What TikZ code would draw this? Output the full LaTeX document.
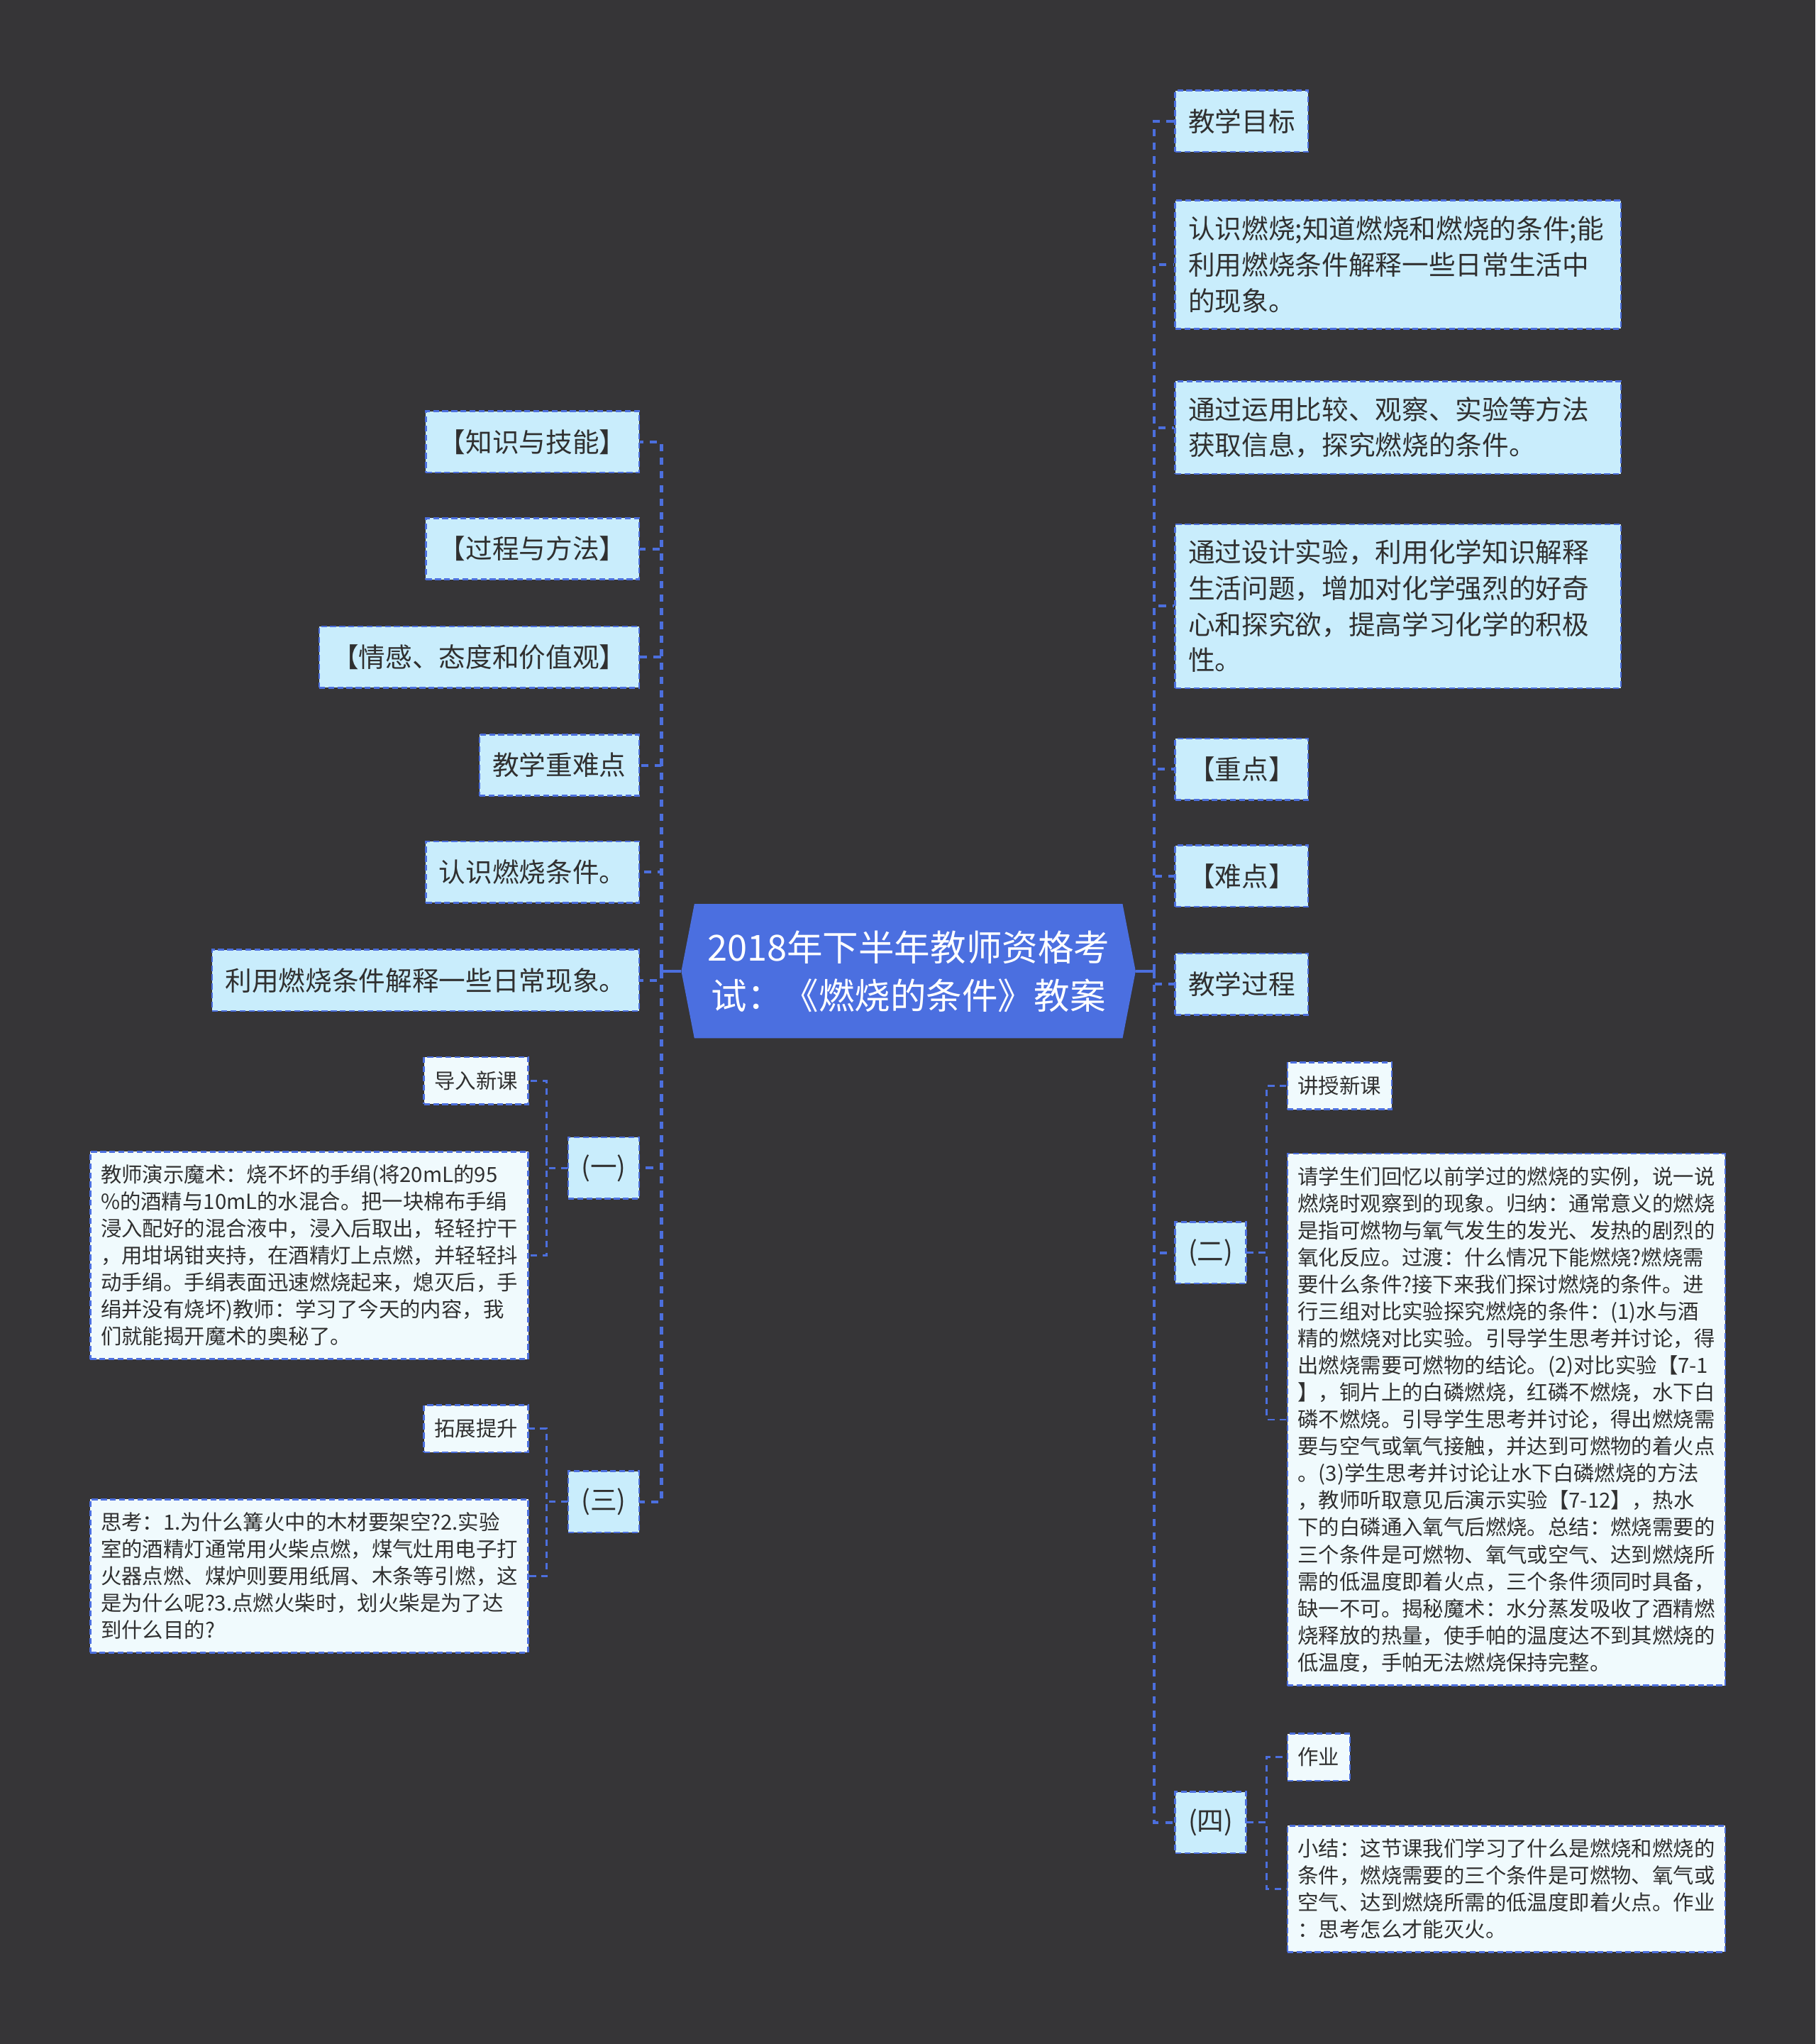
\documentclass[tikz,border=0pt]{standalone}
\usepackage{fontspec}
\setmainfont{Noto Sans CJK SC}
\usepackage{tikz}
\usetikzlibrary{positioning,shapes.symbols}
\definecolor{canvas}{HTML}{363537}
\definecolor{linkblue}{HTML}{4C6FDE}
\definecolor{titlefill}{HTML}{4B6FE0}
\definecolor{boxfill}{HTML}{C9EDFC}
\definecolor{notefill}{HTML}{F0FAFD}
\definecolor{inktext}{HTML}{303030}

\begin{document}
\begin{tikzpicture}[
        x=1pt, y=-1pt,
        title/.style={signal, signal to=east and west, signal pointer angle=158,
            fill=titlefill, text=white, align=center, minimum height=103pt,
            inner xsep=10pt, font=\fontsize{27.5pt}{37pt}\selectfont},
        topic/.style={draw=linkblue, dash pattern=on 4.5pt off 2.5pt, line width=1.4pt,
            fill=boxfill, text=inktext, align=left, inner xsep=10pt, inner ysep=12pt,
            minimum height=47pt, font=\fontsize{20.5pt}{27.6pt}\selectfont},
        wide topic/.style={topic, text width=322pt},
        note/.style={topic, fill=notefill, inner xsep=8pt, inner ysep=10pt,
            minimum height=36pt, font=\fontsize{16pt}{20.7pt}\selectfont},
        stem/.style={draw=linkblue, line width=1.8pt},
        bus/.style={draw=linkblue, line width=2.2pt, dash pattern=on 5.5pt off 5pt},
        subbus/.style={draw=linkblue, line width=1.5pt, dash pattern=on 5pt off 4pt}
    ]

    % Canvas and page size
    \fill[canvas] (0,0) rectangle (1393,1568);
    \useasboundingbox (0,0) rectangle (1393,1568);

    % Central title
    \node[title] (root) at (697,745) {2018年下半年教师资格考\\试：《燃烧的条件》教案};
    \coordinate (lhub) at ([xshift=-15pt]root.west);
    \coordinate (rhub) at ([xshift=14pt]root.east);

    % Define positions for the columns
    \def\lpos{491}
    \def\rpos{901}
    \def\lnote{406}
    \def\rnote{987}

    % Left branch
    \node[topic, anchor=east] (knowledge) at (\lpos,339) {【知识与技能】};
    \node[topic, anchor=east] (process) at (\lpos,421) {【过程与方法】};
    \node[topic, anchor=east] (attitude) at (\lpos,504) {【情感、态度和价值观】};
    \node[topic, anchor=east] (keypoint) at (\lpos,587) {教学重难点};
    \node[topic, anchor=east] (recognize) at (\lpos,669) {认识燃烧条件。};
    \node[topic, anchor=east] (explain) at (\lpos,752) {利用燃烧条件解释一些日常现象。};
    \node[topic, anchor=east] (stepone) at (\lpos,896) {(一)};
    \node[topic, anchor=east] (stepthree) at (\lpos,1152) {(三)};

    \node[note, anchor=east] (intro) at (\lnote,829) {导入新课};
    \node[note, anchor=east] (magic) at (\lnote,963) {教师演示魔术：烧不坏的手绢(将20mL的95\\
        \%的酒精与10mL的水混合。把一块棉布手绢\\
        浸入配好的混合液中，浸入后取出，轻轻拧干\\
        ，用坩埚钳夹持，在酒精灯上点燃，并轻轻抖\\
        动手绢。手绢表面迅速燃烧起来，熄灭后，手\\
        绢并没有烧坏)教师：学习了今天的内容，我\\
        们就能揭开魔术的奥秘了。};
    \node[note, anchor=east] (extend) at (\lnote,1096) {拓展提升};
    \node[note, anchor=east] (think) at (\lnote,1209) {思考：1.为什么篝火中的木材要架空?2.实验\\
        室的酒精灯通常用火柴点燃，煤气灶用电子打\\
        火器点燃、煤炉则要用纸屑、木条等引燃，这\\
        是为什么呢?3.点燃火柴时，划火柴是为了达\\
        到什么目的?};

    % Right branch
    \node[topic, anchor=west] (goal) at (\rpos,93) {教学目标};
    \node[wide topic, anchor=west] (goalone) at (\rpos,203) {认识燃烧;知道燃烧和燃烧的条件;能\\
        利用燃烧条件解释一些日常生活中\\
        的现象。};
    \node[wide topic, anchor=west] (goaltwo) at (\rpos,328) {通过运用比较、观察、实验等方法\\
        获取信息，探究燃烧的条件。};
    \node[wide topic, anchor=west] (goalthree) at (\rpos,465) {通过设计实验，利用化学知识解释\\
        生活问题，增加对化学强烈的好奇\\
        心和探究欲，提高学习化学的积极\\
        性。};
    \node[topic, anchor=west] (focus) at (\rpos,590) {【重点】};
    \node[topic, anchor=west] (difficulty) at (\rpos,672) {【难点】};
    \node[topic, anchor=west] (procedure) at (\rpos,755) {教学过程};
    \node[topic, anchor=west] (steptwo) at (\rpos,961) {(二)};
    \node[topic, anchor=west] (stepfour) at (\rpos,1398) {(四)};

    \node[note, anchor=west] (newlesson) at (\rnote,833) {讲授新课};
    \node[note, anchor=west] (lecture) at (\rnote,1089) {请学生们回忆以前学过的燃烧的实例，说一说\\
        燃烧时观察到的现象。归纳：通常意义的燃烧\\
        是指可燃物与氧气发生的发光、发热的剧烈的\\
        氧化反应。过渡：什么情况下能燃烧?燃烧需\\
        要什么条件?接下来我们探讨燃烧的条件。进\\
        行三组对比实验探究燃烧的条件：(1)水与酒\\
        精的燃烧对比实验。引导学生思考并讨论，得\\
        出燃烧需要可燃物的结论。(2)对比实验【7-1\\
        】，铜片上的白磷燃烧，红磷不燃烧，水下白\\
        磷不燃烧。引导学生思考并讨论，得出燃烧需\\
        要与空气或氧气接触，并达到可燃物的着火点\\
        。(3)学生思考并讨论让水下白磷燃烧的方法\\
        ，教师听取意见后演示实验【7-12】，热水\\
        下的白磷通入氧气后燃烧。总结：燃烧需要的\\
        三个条件是可燃物、氧气或空气、达到燃烧所\\
        需的低温度即着火点，三个条件须同时具备，\\
        缺一不可。揭秘魔术：水分蒸发吸收了酒精燃\\
        烧释放的热量，使手帕的温度达不到其燃烧的\\
        低温度，手帕无法燃烧保持完整。};
    \node[note, anchor=west] (homework) at (\rnote,1348) {作业};
    \node[note, anchor=west] (summary) at (\rnote,1449) {小结：这节课我们学习了什么是燃烧和燃烧的\\
        条件，燃烧需要的三个条件是可燃物、氧气或\\
        空气、达到燃烧所需的低温度即着火点。作业\\
        ：思考怎么才能灭火。};

    % Draw the connecting lines
    \draw[stem] (root.west) -- (lhub);
    \draw[stem] (root.east) -- (rhub);
    \foreach \n in {knowledge,process,attitude,keypoint,recognize,explain,stepone,stepthree}
        \draw[bus] (lhub) |- (\n.east);
    \foreach \n in {goal,goalone,goaltwo,goalthree,focus,difficulty,procedure,steptwo,stepfour}
        \draw[bus] (rhub) |- (\n.west);

    \foreach \n in {intro,magic}
        \draw[subbus] (stepone.west) -- ++(-16,0) |- (\n.east);
    \foreach \n in {extend,think}
        \draw[subbus] (stepthree.west) -- ++(-16,0) |- (\n.east);
    \foreach \n in {newlesson,lecture}
        \draw[subbus] (steptwo.east) -- ++(15,0) |- (\n.west);
    \foreach \n in {homework,summary}
        \draw[subbus] (stepfour.east) -- ++(15,0) |- (\n.west);

\end{tikzpicture}
\end{document}
